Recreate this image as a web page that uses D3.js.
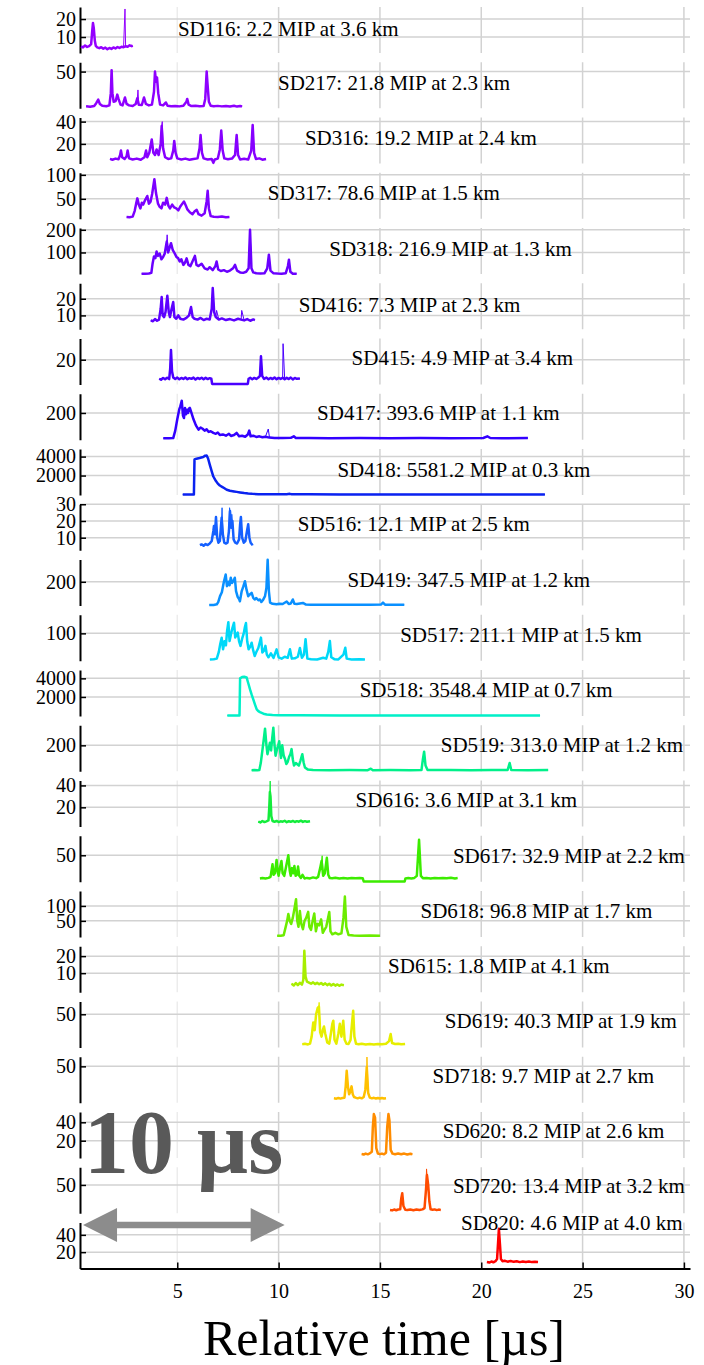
<!DOCTYPE html>
<html><head><meta charset="utf-8">
<script src="https://cdn.jsdelivr.net/npm/d3@7"></script>
<style>body{margin:0;background:#fff}svg{display:block}svg text{font-family:'Liberation Serif','Times New Roman',serif}</style>
</head><body><script>
// ---------- data ----------
const stations = ["SD116","SD217","SD316","SD317","SD318","SD416","SD415","SD417","SD418","SD516","SD419","SD517","SD518","SD519","SD616","SD617","SD618","SD615","SD619","SD718","SD620","SD720","SD820"];
const mips = [2.2,21.8,19.2,78.6,216.9,7.3,4.9,393.6,5581.2,12.1,347.5,211.1,3548.4,313.0,3.6,32.9,96.8,1.8,40.3,9.7,8.2,13.4,4.6];
const dists = [3.6,2.3,2.4,1.5,1.3,2.3,3.4,1.1,0.3,2.5,1.2,1.5,0.7,1.2,3.1,2.2,1.7,4.1,1.9,2.7,2.6,3.2,4.0];
const labelT = [5.03,9.97,11.3,9.47,12.5,11.0,13.6,11.9,12.9,10.95,13.4,16.0,14.0,18.0,13.8,18.6,17.0,15.4,18.2,17.6,18.1,18.6,19.0];
const labelFrac = [0.62,0.6,0.6,0.6,0.6,0.62,0.58,0.58,0.6,0.58,0.6,0.6,0.58,0.58,0.58,0.6,0.58,0.58,0.57,0.58,0.56,0.57,0.16];
const yLo = [1.1,-1,2.4,8.5,5,1.7,-1.5,-12,-50,2.5,-5,-3,-50,-5,2.5,-1.5,-4,-1.2,-2,-4.6,1.2,-1.2,1.1];
const yHi = [26.7,63,43.7,104.4,208,29.3,38.4,352,4800,30,393,170,4900,359,44.5,88,150,25.8,70,64.4,51.2,82,54.3];
const yTicks = [[10,20],[50],[20,40],[50,100],[100,200],[10,20],[20],[200],[2000,4000],[10,20,30],[200],[100],[2000,4000],[200],[20,40],[50],[50,100],[10,20],[50],[50],[20,40],[50],[20,40]];
const xTicks = [5,10,15,20,25,30];
const colors = ["#9400ff","#8e00ff","#8600ff","#7c00ff","#6a00ff","#5c00ff","#4a00ff","#3300ff","#0a22f0","#1560ff","#0a90ff","#00d8f8","#00f0c8","#00f08a","#14ec3c","#3cec00","#6cec00","#a8ee00","#e6ee00","#ffc000","#ff8c00","#ff4c00","#ff0000"];

const traces = [
 [[0.25,4.8],[0.35,4.2],[0.45,5.3],[0.55,4.5],[0.65,4.9],[0.75,6],[0.8,13],[0.84,17.8],[0.88,15],[0.93,8],[0.98,5],[1.05,4.2],[1.15,3.8],[1.25,4.3],[1.35,3.5],[1.45,4.1],[1.55,3.2],[1.65,3.9],[1.75,3.4],[1.85,4.2],[1.95,3.6],[2.05,4.4],[2.15,3.9],[2.25,4.6],[2.35,4.3],[2.45,4.9],[2.55,4.6],[2.65,5.4],[2.75,4.9],[2.8,5.2]],
 [[0.5,1.8],[0.7,1.2],[0.9,2.2],[1.0,6],[1.1,11],[1.18,5],[1.3,2.5],[1.5,1.8],[1.65,3],[1.72,20],[1.76,52],[1.8,20],[1.86,8],[1.96,9],[2.04,18],[2.1,12],[2.2,4],[2.3,3],[2.42,14],[2.5,5],[2.62,3],[2.8,2.2],[2.95,5],[3.03,13],[3.1,4],[3.25,3.5],[3.36,14],[3.45,5],[3.6,3],[3.75,4],[3.85,22],[3.9,50],[3.95,36],[4.0,42],[4.06,20],[4.15,4],[4.3,3],[4.44,7],[4.52,2.5],[4.7,1.8],[4.9,2.2],[5.1,1.6],[5.3,2.4],[5.45,8],[5.49,12],[5.56,4],[5.7,2],[5.9,2.4],[6.1,1.8],[6.3,2],[6.38,12],[6.45,50],[6.5,30],[6.56,8],[6.65,2.4],[6.8,1.7],[7.0,2.3],[7.2,1.6],[7.4,2.2],[7.6,1.5],[7.8,2.4],[7.95,1.3],[8.1,2.2],[8.2,1.6]],
 [[1.68,6.5],[1.8,5.8],[1.95,6.8],[2.1,6.2],[2.18,10],[2.22,14],[2.28,8],[2.4,6.5],[2.5,9],[2.55,14],[2.62,7],[2.8,6],[3.0,6.8],[3.2,5.8],[3.38,8],[3.46,14],[3.52,8],[3.62,12],[3.74,24],[3.82,12],[3.9,10],[3.98,15],[4.08,10],[4.18,20],[4.23,36],[4.3,16],[4.4,8],[4.55,6.5],[4.7,7],[4.8,14],[4.85,22.7],[4.92,12],[5.0,7],[5.2,6],[5.4,6.8],[5.6,5.8],[5.8,6.5],[6.0,7],[6.1,16],[6.15,28],[6.22,12],[6.3,7],[6.5,6],[6.7,6.5],[6.78,3],[6.85,6],[7.0,6.8],[7.1,15],[7.17,32],[7.24,14],[7.32,7],[7.5,6.2],[7.7,6.8],[7.85,10],[7.93,28],[8.0,10],[8.1,6],[8.3,6.6],[8.5,6],[8.65,14],[8.72,37],[8.79,12],[8.88,6.5],[9.05,7],[9.2,5.8],[9.38,6.5]],
 [[2.5,12],[2.65,11.5],[2.8,13],[2.9,25],[2.97,40],[3.03,51],[3.1,38],[3.18,30],[3.25,42],[3.32,38],[3.42,48],[3.52,56],[3.6,40],[3.68,44],[3.76,60],[3.87,91],[3.95,62],[4.05,40],[4.12,34],[4.22,30],[4.3,42],[4.4,38],[4.48,52],[4.56,36],[4.64,30],[4.75,38],[4.85,32],[4.95,30],[5.05,26],[5.15,34],[5.25,40],[5.33,44.5],[5.42,36],[5.5,28],[5.62,22],[5.75,18],[5.86,24],[5.96,27],[6.05,18],[6.2,15],[6.35,20],[6.45,45],[6.5,66.7],[6.56,30],[6.65,14],[6.8,12.5],[7.0,12],[7.2,13],[7.4,11.5],[7.57,12]],
 [[3.24,6],[3.4,6],[3.6,7],[3.72,10],[3.78,50],[3.85,82],[3.92,75],[3.98,104],[4.05,85],[4.13,95],[4.22,70],[4.3,80],[4.38,95],[4.48,148],[4.55,100],[4.62,120],[4.69,141],[4.78,110],[4.88,95],[4.96,80],[5.04,75],[5.12,60],[5.2,70],[5.3,45],[5.38,55],[5.46,74],[5.55,45],[5.65,40],[5.75,60],[5.87,85],[5.95,45],[6.05,40],[6.2,50],[6.35,30],[6.5,25],[6.6,35],[6.75,22],[6.88,40],[6.94,60],[7.02,25],[7.15,18],[7.3,22],[7.45,15],[7.6,20],[7.75,30],[7.85,45],[7.95,20],[8.1,12],[8.25,10],[8.4,15],[8.52,30],[8.59,200],[8.66,30],[8.75,12],[8.9,8],[9.1,7],[9.3,8],[9.44,30],[9.52,90],[9.6,20],[9.75,8],[9.95,7],[10.15,6.5],[10.35,8],[10.46,40],[10.51,68],[10.58,15],[10.7,6.5],[10.89,6]],
 [[3.69,7],[3.8,6.5],[3.9,7.8],[4.0,6.8],[4.1,7.5],[4.18,14],[4.23,21],[4.28,10],[4.35,9],[4.42,12],[4.51,21.8],[4.58,12],[4.64,9],[4.72,14],[4.8,18],[4.86,9],[4.95,8],[5.05,10],[5.15,8],[5.3,7.5],[5.45,8.5],[5.58,10],[5.68,15],[5.76,9],[5.85,8],[6.0,7.5],[6.15,8.5],[6.3,7.2],[6.45,8],[6.6,7.6],[6.7,14],[6.75,26.4],[6.82,12],[6.9,9],[7.05,7.5],[7.2,8.2],[7.4,7.2],[7.6,7.8],[7.8,7],[8.0,8],[8.15,7.5],[8.3,7],[8.45,7.8],[8.6,6.8],[8.75,7.6],[8.83,7.2]],
 [[4.11,3.5],[4.2,2.6],[4.3,4.2],[4.4,3.0],[4.5,4.4],[4.6,3.2],[4.65,12],[4.69,28.4],[4.74,10],[4.8,4.6],[4.9,3.2],[5.0,4.5],[5.1,3.0],[5.2,4.2],[5.3,3.3],[5.4,4.6],[5.5,3.1],[5.6,4.0],[5.7,3.4],[5.8,4.5],[5.9,2.8],[6.0,4.2],[6.1,3.3],[6.2,4.4],[6.3,3.0],[6.4,4.3],[6.5,3.2],[6.6,4.0],[6.68,3.5],[6.72,-1],[8.48,-1],[8.52,3.5],[8.6,4.3],[8.7,3.1],[8.8,4.2],[8.9,3.3],[9.0,4.5],[9.08,6],[9.13,22.9],[9.19,6],[9.28,3.4],[9.4,4.5],[9.5,3.0],[9.6,4.2],[9.7,3.2],[9.8,4.6],[9.9,3.1],[10.0,4.2],[10.1,3.3],[10.2,4.4],[10.3,3.0],[10.4,4.3],[10.5,3.2],[10.6,4.5],[10.7,2.9],[10.8,4.2],[10.9,3.4],[11.05,3.8]],
 [[4.31,0],[4.6,0],[4.8,1],[4.9,60],[5.0,150],[5.1,230],[5.15,252],[5.22,297],[5.28,180],[5.33,160],[5.38,240],[5.43,190],[5.48,225],[5.53,200],[5.58,235],[5.62,240],[5.7,200],[5.8,150],[5.9,110],[5.95,94],[6.05,68],[6.15,85],[6.25,75],[6.35,60],[6.45,70],[6.55,50],[6.65,55],[6.78,42],[6.9,35],[7.0,45],[7.1,25],[7.25,30],[7.4,20],[7.55,35],[7.65,18],[7.8,25],[7.93,42],[8.05,15],[8.2,20],[8.35,12],[8.48,30],[8.55,60],[8.62,15],[8.75,20],[8.9,10],[9.05,15],[9.2,8],[9.35,12],[9.55,5],[9.8,2],[10.2,1],[10.6,3],[10.75,15],[10.85,2],[11.5,1],[12.5,0],[14,1],[15.5,0],[17,1],[18.5,0],[20.1,2],[20.3,15],[20.45,2],[21,0],[22.3,1]],
 [[5.27,0],[5.5,0],[5.82,0],[5.85,3700],[5.95,3780],[6.1,3850],[6.28,3950],[6.38,4100],[6.45,4110],[6.52,3800],[6.61,3100],[6.7,2450],[6.78,1900],[6.9,1450],[7.0,1150],[7.1,950],[7.25,760],[7.44,500],[7.6,400],[7.8,330],[7.93,280],[8.1,220],[8.3,150],[8.5,100],[8.7,70],[9.0,40],[9.5,30],[10.0,25],[10.4,30],[10.55,70],[10.65,30],[11.5,20],[13,15],[15,15],[17,12],[19,12],[21,10],[23.14,10]],
 [[6.12,5.5],[6.2,6],[6.3,5.2],[6.4,6.2],[6.5,5.6],[6.6,6.5],[6.7,8],[6.78,14],[6.81,17],[6.86,12],[6.91,22.4],[6.97,10],[7.03,7],[7.1,8],[7.15,16],[7.19,22],[7.25,12],[7.32,7],[7.4,6.5],[7.48,7],[7.55,14],[7.6,26],[7.66,16],[7.72,20],[7.78,9],[7.86,7],[7.95,6.5],[8.05,9],[8.1,18],[8.14,22.4],[8.2,10],[8.28,7],[8.36,8],[8.44,14],[8.5,18],[8.56,10],[8.62,7],[8.72,5.5]],
 [[6.58,0],[6.8,0],[6.95,5],[7.02,25],[7.11,76],[7.2,110],[7.3,200],[7.39,263],[7.45,162],[7.52,200],[7.58,170],[7.64,235],[7.7,190],[7.78,210],[7.84,235],[7.9,120],[7.98,70],[8.05,50],[8.09,32],[8.18,120],[8.26,160],[8.34,205],[8.42,130],[8.5,75],[8.58,90],[8.67,105],[8.75,60],[8.82,47],[8.9,60],[9.0,40],[9.08,47],[9.15,25],[9.22,40],[9.33,76],[9.4,150],[9.46,390],[9.52,120],[9.58,20],[9.7,10],[9.9,5],[10.05,10],[10.2,8],[10.4,30],[10.5,8],[10.6,12],[10.7,47],[10.78,10],[10.9,8],[11.2,17],[11.35,3],[11.6,2],[12.5,1],[13.5,2],[14.5,1],[15.05,3],[15.15,20],[15.25,2],[16.2,1]],
 [[6.61,2],[6.8,2.5],[6.95,5],[7.05,30],[7.12,60],[7.19,83.5],[7.26,40],[7.33,70],[7.4,55],[7.46,110],[7.52,142],[7.58,71],[7.66,100],[7.72,120],[7.8,140],[7.86,84],[7.92,95],[7.98,103],[8.05,70],[8.12,53],[8.2,80],[8.28,100],[8.34,125],[8.39,139],[8.45,70],[8.52,40],[8.6,50],[8.67,65],[8.75,35],[8.82,15],[8.9,30],[9.0,45],[9.13,84],[9.2,28],[9.28,35],[9.35,53],[9.42,20],[9.5,10],[9.62,25],[9.75,8],[9.9,40],[10.0,10],[10.15,5],[10.3,12],[10.45,8],[10.56,40],[10.65,5],[10.8,6],[10.95,12],[11.05,45],[11.15,8],[11.25,20],[11.33,78],[11.42,5],[11.6,3],[11.9,2],[12.2,8],[12.35,5],[12.45,30],[12.53,71],[12.6,10],[12.75,3],[12.95,2],[13.2,20],[13.29,46],[13.36,5],[13.6,2],[14.0,3],[14.26,2]],
 [[7.47,0],[7.8,0],[8.07,0],[8.1,4000],[8.2,4150],[8.3,4180],[8.42,4100],[8.5,3500],[8.59,2810],[8.67,2250],[8.75,1735],[8.84,1150],[8.92,660],[9.0,480],[9.08,370],[9.25,200],[9.41,120],[9.7,60],[10.0,40],[11,25],[13,15],[15,10],[17,10],[19,8],[21,6],[22.9,5]],
 [[8.67,3],[8.8,4],[8.95,2],[9.05,5],[9.12,60],[9.2,160],[9.27,250],[9.33,332],[9.4,200],[9.45,130],[9.52,180],[9.57,220],[9.63,160],[9.68,250],[9.74,340],[9.8,200],[9.85,118],[9.92,170],[9.98,200],[10.03,232],[10.08,150],[10.12,100],[10.18,200],[10.25,120],[10.32,90],[10.38,52],[10.45,70],[10.52,110],[10.58,130],[10.64,170],[10.7,90],[10.76,40],[10.85,60],[10.92,50],[11.0,40],[11.08,80],[11.17,130],[11.24,60],[11.3,25],[11.45,8],[11.7,4],[12.5,3],[13.5,4],[14.4,3],[14.55,15],[14.65,3],[15.5,4],[16.5,3],[17.05,4],[17.12,90],[17.18,150],[17.25,40],[17.35,5],[18.5,4],[19.5,3],[20.5,4],[21.3,5],[21.4,60],[21.48,5],[22.3,3],[23.3,4]],
 [[9.0,7],[9.1,6.2],[9.2,7.5],[9.3,6.5],[9.4,7.2],[9.5,8],[9.54,20],[9.57,34],[9.6,30],[9.64,12],[9.7,7.5],[9.8,6.8],[9.9,7.6],[10.0,6.6],[10.1,7.2],[10.2,6.9],[10.3,7.7],[10.4,6.5],[10.5,7.3],[10.6,6.8],[10.7,7.6],[10.8,6.6],[10.9,7.4],[11.0,6.9],[11.1,7.8],[11.2,6.7],[11.3,7.4],[11.4,6.8],[11.55,7.3]],
 [[9.08,5],[9.2,5.8],[9.35,4.8],[9.5,6],[9.6,8],[9.65,20],[9.7,32.5],[9.75,12],[9.82,15],[9.9,41],[9.95,20],[10.0,10],[10.08,28],[10.14,39],[10.2,15],[10.28,10],[10.38,30],[10.48,50],[10.55,20],[10.6,10],[10.66,25],[10.72,15],[10.78,29],[10.84,10],[10.9,12],[10.96,28],[11.02,10],[11.1,6],[11.18,12],[11.28,5],[11.4,6],[11.55,5],[11.7,7],[11.85,5.5],[11.95,8],[12.05,25],[12.12,39],[12.2,10],[12.28,15],[12.38,45],[12.45,12],[12.52,6],[12.65,5.5],[12.8,6.2],[13.0,5],[13.2,5.8],[13.4,5],[13.6,6],[13.8,5.2],[14.0,5.8],[14.15,5.5],[14.2,-1],[16.22,-1],[16.26,5],[16.4,5.8],[16.55,5],[16.7,6],[16.82,10],[16.93,80],[17.02,10],[17.12,5.5],[17.3,6],[17.5,5],[17.7,6],[17.9,5.4],[18.1,6],[18.3,5.2],[18.5,6.2],[18.7,5],[18.83,5.6]],
 [[9.93,0],[10.1,0],[10.25,2],[10.35,30],[10.42,50],[10.48,72.7],[10.55,50],[10.62,40],[10.7,60],[10.78,90],[10.86,122.7],[10.92,50],[10.98,30],[11.05,83],[11.12,40],[11.2,22],[11.28,50],[11.36,60],[11.46,80],[11.52,30],[11.6,20],[11.68,50],[11.76,75],[11.84,15],[11.92,40],[12.0,35],[12.1,55],[12.18,10],[12.26,20],[12.35,30],[12.44,60],[12.5,80],[12.56,15],[12.65,5],[12.8,10],[12.95,5],[13.1,8],[13.2,60],[13.27,131.7],[13.34,30],[13.45,3],[13.7,1],[14.0,0],[14.5,1],[15.0,0]],
 [[10.64,3.8],[10.75,2.8],[10.85,4.2],[10.95,3.0],[11.05,4.4],[11.15,3.3],[11.22,6],[11.27,23.1],[11.33,8],[11.4,5],[11.5,4.4],[11.6,3.8],[11.7,4.6],[11.8,3.6],[11.9,4.3],[12.0,3.5],[12.1,4.2],[12.2,3.2],[12.3,4.0],[12.4,3.0],[12.5,3.8],[12.6,2.8],[12.7,3.6],[12.8,2.7],[12.9,3.4],[13.0,2.6],[13.1,3.3],[13.22,2.9]],
 [[11.17,3],[11.3,3.8],[11.45,2.8],[11.55,4],[11.63,15],[11.71,37],[11.78,25],[11.85,50],[11.93,60],[11.99,62],[12.05,22],[12.12,15],[12.18,25],[12.24,31],[12.3,20],[12.4,6],[12.5,4],[12.58,20],[12.65,35],[12.7,40],[12.76,10],[12.85,4],[12.95,20],[13.02,35],[13.1,15],[13.19,40],[13.26,10],[13.35,4],[13.45,3.5],[13.55,10],[13.62,35],[13.68,55.5],[13.74,15],[13.82,4],[13.95,3.2],[14.1,4],[14.3,2.8],[14.5,3.6],[14.7,2.7],[14.9,3.5],[15.1,3],[15.3,3.8],[15.45,8],[15.53,19],[15.6,5],[15.75,3.5],[15.9,4],[16.05,3],[16.24,3.6]],
 [[12.73,2],[12.85,1.5],[12.95,2.6],[13.05,1.6],[13.15,2.4],[13.25,3],[13.31,20],[13.36,43.4],[13.42,20],[13.48,8],[13.54,12],[13.6,20],[13.66,8],[13.72,4],[13.8,3],[13.9,2],[14.0,3],[14.1,2],[14.2,4],[14.28,15],[14.35,49],[14.42,10],[14.5,3],[14.6,2],[14.7,2.8],[14.8,1.8],[14.9,2.6],[15.0,1.7],[15.1,2.4],[15.2,1.8],[15.3,2.2]],
 [[14.1,5.5],[14.2,5],[14.3,6],[14.4,5.2],[14.5,6.2],[14.6,8],[14.65,35],[14.7,49],[14.76,45],[14.82,12],[14.9,6],[15.0,5.4],[15.1,6],[15.2,5.2],[15.3,7],[15.36,35],[15.42,49],[15.47,42],[15.53,10],[15.62,6],[15.75,5.2],[15.9,6],[16.05,5.3],[16.2,6],[16.35,5],[16.5,5.8],[16.6,5.3]],
 [[15.5,4.8],[15.6,4],[15.7,5.5],[15.8,4.3],[15.9,5.6],[16.0,6],[16.05,25],[16.1,35],[16.16,12],[16.25,5],[16.35,4.5],[16.5,5.5],[16.65,4.4],[16.8,5.6],[16.95,4.6],[17.1,5.8],[17.2,8],[17.27,40],[17.32,68],[17.38,50],[17.44,20],[17.5,6],[17.6,5],[17.7,5.8],[17.8,4.5],[17.9,5.4],[18.0,4.8]],
 [[20.28,8.7],[20.4,8],[20.5,9.2],[20.6,8.3],[20.7,9.5],[20.78,12],[20.84,35],[20.87,47],[20.92,30],[20.97,12],[21.05,9.6],[21.15,10],[21.3,9],[21.45,9.8],[21.6,8.8],[21.75,9.5],[21.9,8.5],[22.05,9.3],[22.2,8.6],[22.35,9.2],[22.5,8.5],[22.65,9],[22.8,8.7]]
];
// extra points seen only on the second (thin) trace of each panel
const thinExtra = [
 [[2.42,25.6]],[[3.06,24.5]],[[4.26,40]],[],[[4.5,178]],[[6.94,13],[8.18,13]],[[10.22,33.9]],[[9.49,73]],[],
 [[7.21,27.9],[7.58,27.9],[7.69,24]],[],[],[],[],[[9.585,44]],[[12.15,49]],[],[],[[12.0,68.6]],[[14.36,64]],[],[[17.3,79]],[]
];

// ---------- layout ----------
const W = 704, H = 1365;
const serif = "'Liberation Serif','Times New Roman',serif";
const svg = d3.select("body").append("svg").attr("width", W).attr("height", H);
const x = d3.scaleLinear().domain([0.2, 30.3]).range([80, 690]);
const top0 = 7, pitch = 55.25, ph = 46;
const fmt = d3.format("d");

stations.forEach((s, i) => {
  const top = top0 + i * pitch, bot = top + ph;
  const y = d3.scaleLinear().domain([yLo[i], yHi[i]]).range([bot, top]);
  const g = svg.append("g");
  // vertical grid
  g.selectAll("line.vg").data(xTicks).join("line").attr("class", "vg")
    .attr("x1", d => x(d)).attr("x2", d => x(d)).attr("y1", top).attr("y2", bot)
    .attr("stroke", d => d === 5 ? "#ececec" : "#d2d2d2").attr("stroke-width", 1.5);
  // horizontal grid
  g.selectAll("line.hg").data(yTicks[i]).join("line").attr("class", "hg")
    .attr("x1", x.range()[0]).attr("x2", x.range()[1])
    .attr("y1", d => y(d)).attr("y2", d => y(d))
    .attr("stroke", "#d2d2d2").attr("stroke-width", 1.5);
  // axis
  const ga = g.append("g").attr("transform", `translate(${x.range()[0]},0)`)
    .call(d3.axisLeft(y).tickValues(yTicks[i]).tickFormat(fmt).tickSizeInner(-6).tickSizeOuter(0).tickPadding(4));
  ga.attr("font-family", null).attr("font-size", null);
  ga.select(".domain").attr("stroke", "#000").attr("stroke-width", 2);
  ga.selectAll(".tick line").attr("stroke", "#000").attr("stroke-width", 1.5);
  ga.selectAll(".tick text").attr("fill", "#000").style("font-family", serif).style("font-size", "20px");
  // traces
  const line = d3.line().x(d => x(d[0])).y(d => y(d[1]));
  const thin = traces[i].concat(thinExtra[i]).sort((a, b) => a[0] - b[0]);
  g.append("path").attr("d", line(thin)).attr("fill", "none")
    .attr("stroke", colors[i]).attr("stroke-width", 1).attr("stroke-linejoin", "round");
  g.append("path").attr("d", line(traces[i])).attr("fill", "none")
    .attr("stroke", colors[i]).attr("stroke-width", 2.5).attr("stroke-linejoin", "round");
  // label
  g.append("text").attr("x", x(labelT[i])).attr("y", top + labelFrac[i] * ph)
    .style("font-family", serif).style("font-size", "21px").attr("fill", "#000")
    .text(`${s}: ${mips[i].toFixed(1)} MIP at ${dists[i].toFixed(1)} km`);
});

// bottom x axis
const axisY = top0 + 22 * pitch + ph;
const gx = svg.append("g").attr("transform", `translate(0,${axisY})`)
  .call(d3.axisBottom(x).tickValues(xTicks).tickFormat(fmt).tickSizeInner(-6).tickSizeOuter(0).tickPadding(15));
gx.attr("font-family", null).attr("font-size", null);
gx.select(".domain").attr("stroke", "#000").attr("stroke-width", 2);
gx.selectAll(".tick line").attr("stroke", "#000").attr("stroke-width", 1.5);
gx.selectAll(".tick text").attr("fill", "#000").style("font-family", serif).style("font-size", "20px");

svg.append("text").attr("x", (x.range()[0] + x.range()[1]) / 2 - 1).attr("y", 1355)
  .attr("text-anchor", "middle").style("font-family", serif).style("font-size", "50px")
  .attr("fill", "#000").text("Relative time [\u00b5s]");

// 10 µs scale marker
svg.append("text").attr("x", 84).attr("y", 1173).style("font-family", serif)
  .attr("font-weight", "bold").style("font-size", "90px").attr("fill", "#595959").text("10 \u00b5s");
const a0 = x(0.35), a1 = x(10.3), ay = 1225, hl = 34, hh = 17, sh = 3.3;
svg.append("path").attr("fill", "#8c8c8c").attr("d",
  `M${a0},${ay} L${a0 + hl},${ay - hh} L${a0 + hl},${ay - sh} L${a1 - hl},${ay - sh} L${a1 - hl},${ay - hh} L${a1},${ay} L${a1 - hl},${ay + hh} L${a1 - hl},${ay + sh} L${a0 + hl},${ay + sh} L${a0 + hl},${ay + hh} Z`);
</script></body></html>
